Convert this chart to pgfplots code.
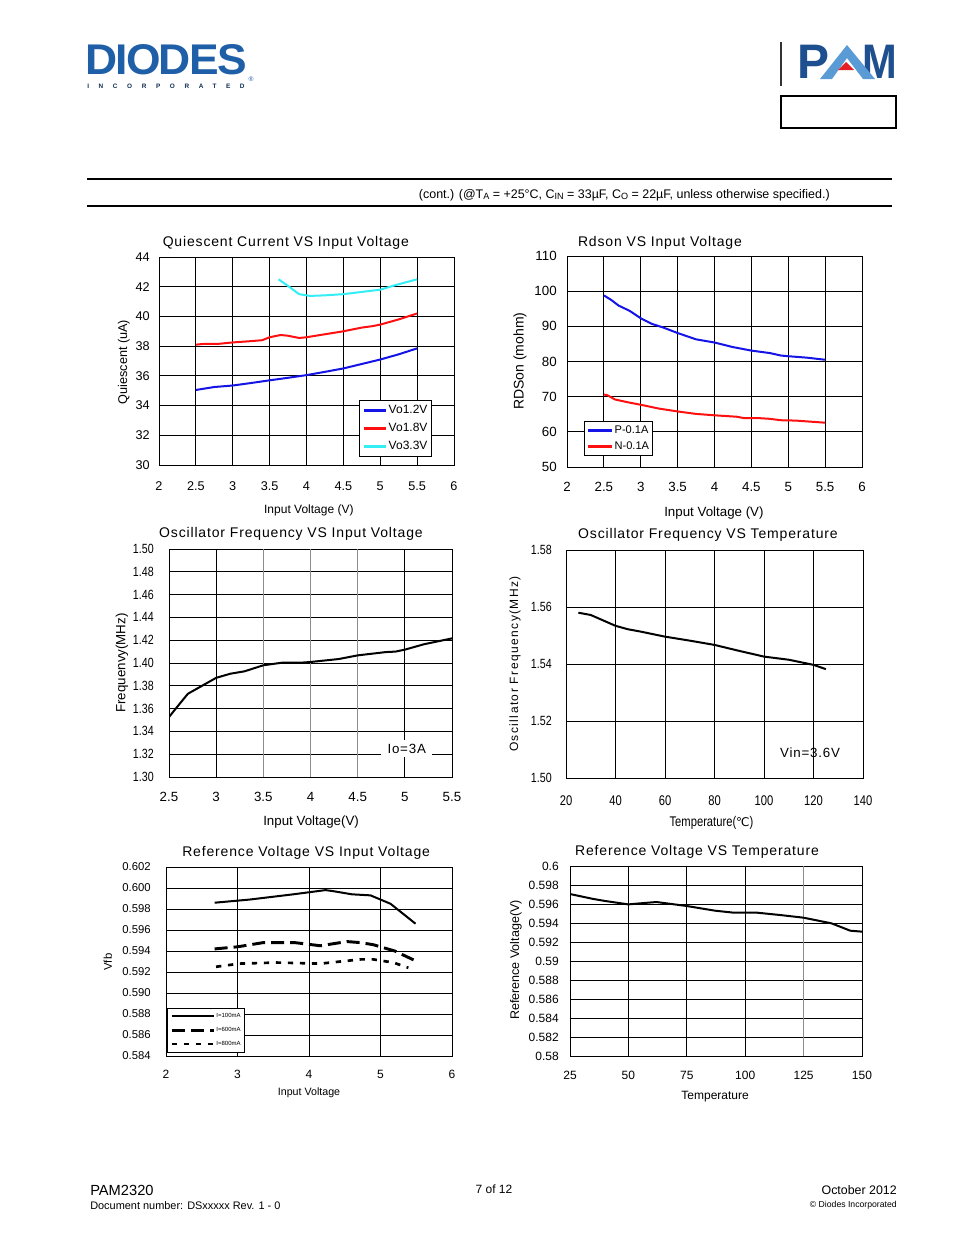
\documentclass[border=0pt]{standalone}
\usepackage{graphicx}
\usepackage{pgfplots}
\pgfplotsset{compat=1.18}
\usepackage{fontspec}
\setmainfont{Liberation Sans}
\newfontfamily\spaced[LetterSpace=6]{Liberation Sans}
\newfontfamily\narrow[FakeStretch=0.8]{Liberation Sans}
\newfontfamily\wide[LetterSpace=150]{Liberation Sans}
\newfontfamily\dejavu{DejaVu Sans}

\definecolor{diodesblue}{HTML}{1F5FA8}
\definecolor{pamdark}{HTML}{1E4F8F}
\definecolor{pamlight}{HTML}{5B9BD5}
\definecolor{pamred}{HTML}{E31E24}
\definecolor{qblue}{HTML}{1414E6}
\definecolor{qred}{HTML}{FF1010}
\definecolor{qcyan}{HTML}{33EEF5}

\newcommand\fs[1]{\fontsize{#1}{#1}\selectfont}
\newcommand\sub[1]{\raisebox{-0.8pt}{\fs{6.8}#1}}

\pgfplotsset{
  pg/.style={
    scale only axis, anchor=south west,
    axis line style={black, line width=0.6pt},
    grid=major, major grid style={black, line width=0.6pt},
    major tick length=0pt, tick style={draw=none},
    /pgf/number format/assume math mode=true,
    every axis title/.style={font=\spaced\fs{10.5}, anchor=center, inner sep=0pt},
    every axis x label/.style={anchor=center, inner sep=0pt},
    every axis y label/.style={anchor=center, rotate=90, inner sep=0pt},
    every axis plot/.append style={line width=1.5pt, line join=round},
    legend cell align=left,
  },
}

\begin{document}
\begin{tikzpicture}
\begin{scope}[x=0.75pt,y=-0.75pt]
\path[use as bounding box, fill=white] (0,0) rectangle (954,1235);

% header logos
\node[anchor=south west, inner sep=0pt, text=diodesblue] at (85,75) {\resizebox{121pt}{22.5pt}{\bfseries\addfontfeature{LetterSpace=-4}DIODES}};
\node[anchor=west, inner sep=0pt, text=diodesblue!50!black] at (87,86.5) {\resizebox{118pt}{!}{\bfseries\wide\fs{4}INCORPORATED}};
\node[inner sep=0pt, text=diodesblue] at (251,79) {\fs{5}®};

\draw[line width=1.1pt, black!80] (781,42) -- (781,86);
\node[anchor=south west, inner sep=0pt, text=pamdark] at (797,79) {\resizebox{24pt}{25pt}{\bfseries P}};
\node[anchor=south west, inner sep=0pt, text=pamdark] at (862,79) {\resizebox{26pt}{25pt}{\bfseries M}};
\fill[pamlight] (820,79) -- (847,45) -- (875,79) -- (863,79) -- (847,58) -- (832,79) -- cycle;
\fill[pamred] (838,70) -- (846,62) -- (854,70) -- cycle;
\draw[line width=0.9pt] (781,96) rectangle (896,128);

\draw[line width=1.5pt] (87,179) -- (892,179);
\draw[line width=1.5pt] (87,206) -- (892,206);
\node[anchor=east, inner sep=0pt, font=\fs{9.35}] at (830,195) {(cont.) (@T\sub{A} = +25°C, C\sub{IN} = 33µF, C\sub{O} = 22µF, unless otherwise specified.)};

% footer
\node[anchor=base west, inner sep=0pt, font=\fs{11}] at (90,1195) {PAM2320};
\node[anchor=base west, inner sep=0pt, font=\fs{8.2}] at (90,1209) {Document number: DSxxxxx Rev. 1 - 0};
\node[anchor=base, inner sep=0pt, font=\fs{9}] at (494,1193) {7 of 12};
\node[anchor=base east, inner sep=0pt, font=\fs{9.3}] at (897,1194) {October 2012};
\node[anchor=base east, inner sep=0pt, font=\fs{6.5}] at (897,1207) {© Diodes Incorporated};
\end{scope}

% 1: quiescent current
\begin{axis}[pg, at={(119.25pt,-348.75pt)}, width=221.25pt, height=156pt,
  xmin=2, xmax=6, ymin=30, ymax=44,
  xtick={2,2.5,...,6}, ytick={30,32,...,44},
  title={Quiescent Current VS Input Voltage},
  title style={at={(axis description cs:0.43,1.067)}},
  xlabel={Input Voltage (V)},
  xlabel style={at={(axis description cs:0.508,-0.216)}, font=\fs{9}},
  ylabel={Quiescent (uA)},
  ylabel style={at={(axis description cs:-0.119,0.495)}, font=\fs{9.5}},
  xticklabel style={anchor=center, yshift=-15.75pt, font=\fs{9.5}},
  yticklabel style={anchor=east, inner sep=0pt, xshift=-6.75pt, font=\fs{9.5}},
  legend style={at={(axis description cs:0.678,0.3125)}, anchor=north west,
    draw=black, line width=0.6pt, fill=white, font=\fs{9}, row sep=4pt,
    inner xsep=2.5pt, inner ysep=3pt, nodes={inner sep=0.8pt}},
  legend image code/.code={\draw[#1, line width=2.2pt] (0pt,0pt) -- (16.5pt,0pt);},
]
\addplot[qblue] coordinates {(2.5,35.05)(2.75,35.25)(3,35.35)(3.25,35.52)(3.5,35.7)(3.75,35.87)(4,36.05)(4.25,36.27)(4.5,36.5)(4.75,36.8)(5,37.1)(5.25,37.45)(5.5,37.85)};
\addplot[qred] coordinates {(2.5,38.1)(2.6,38.15)(2.8,38.15)(3,38.25)(3.2,38.32)(3.4,38.4)(3.5,38.6)(3.65,38.75)(3.75,38.7)(3.9,38.55)(4,38.6)(4.25,38.8)(4.5,39.0)(4.75,39.25)(4.9,39.35)(5,39.45)(5.25,39.8)(5.5,40.2)};
\addplot[qcyan] coordinates {(3.62,42.5)(3.75,42.05)(3.9,41.5)(4.05,41.38)(4.25,41.42)(4.5,41.5)(4.75,41.65)(5,41.8)(5.2,42.1)(5.5,42.5)};
\legend{Vo1.2V,Vo1.8V,Vo3.3V}
\end{axis}

% 2: Rdson
\begin{axis}[pg, at={(425.25pt,-350.25pt)}, width=221.25pt, height=158.25pt,
  xmin=2, xmax=6, ymin=50, ymax=110,
  xtick={2,2.5,...,6}, ytick={50,60,...,110},
  title={Rdson VS Input Voltage},
  title style={at={(axis description cs:0.315,1.062)}},
  xlabel={Input Voltage (V)},
  xlabel style={at={(axis description cs:0.498,-0.218)}, font=\fs{10}},
  ylabel={RDSon (mohm)},
  ylabel style={at={(axis description cs:-0.159,0.502)}, font=\fs{10.5}},
  xticklabel style={anchor=center, yshift=-15pt, font=\fs{10}},
  yticklabel style={anchor=east, inner sep=0pt, xshift=-7.5pt, font=\fs{10}},
  legend style={at={(axis description cs:0.058,0.218)}, anchor=north west,
    draw=black, line width=0.6pt, fill=white, font=\fs{8.3}, row sep=3pt,
    inner xsep=2pt, inner ysep=2.5pt, nodes={inner sep=0.8pt}},
  legend image code/.code={\draw[#1, line width=1.8pt] (0pt,0pt) -- (18pt,0pt);},
]
\addplot[qblue] coordinates {(2.5,98.8)(2.6,97.5)(2.7,95.9)(2.85,94.4)(3,92.3)(3.15,90.7)(3.3,89.7)(3.5,88.1)(3.75,86.3)(4,85.4)(4.25,84.1)(4.5,83.1)(4.75,82.4)(4.9,81.7)(5,81.5)(5.25,81.1)(5.5,80.5)};
\addplot[qred] coordinates {(2.5,70.6)(2.55,70.4)(2.65,69.2)(2.85,68.3)(3,67.7)(3.25,66.6)(3.5,65.8)(3.75,65.1)(4,64.7)(4.3,64.3)(4.4,63.9)(4.6,63.9)(4.75,63.7)(4.9,63.3)(5.1,63.2)(5.3,62.9)(5.5,62.6)};
\legend{P-0.1A,N-0.1A}
\end{axis}

% 3: oscillator frequency vs input voltage
\begin{axis}[pg, at={(126.75pt,-582.75pt)}, width=212.25pt, height=171pt,
  xmin=2.5, xmax=5.5, ymin=1.30, ymax=1.50,
  xtick={2.5,3,5,5.5}, extra x ticks={3.5,4,4.5},
  extra x tick style={major grid style={black!45, line width=0.6pt}},
  ytick={1.30,1.32,...,1.50},
  title={Oscillator Frequency VS Input Voltage},
  title style={at={(axis description cs:0.431,1.066)}},
  xlabel={Input Voltage(V)},
  xlabel style={at={(axis description cs:0.502,-0.197)}, font=\fs{10}},
  ylabel={Frequenvy(MHz)},
  ylabel style={at={(axis description cs:-0.166,0.5)}, font=\fs{10}},
  xticklabel style={anchor=center, yshift=-15pt, font=\fs{10}},
  yticklabel style={anchor=east, inner sep=0pt, xshift=-11.25pt, font=\narrow\fs{10},
    /pgf/number format/fixed, /pgf/number format/fixed zerofill, /pgf/number format/precision=2},
]
\addplot[black] coordinates {(2.5,1.3526)(2.6,1.3629)(2.7,1.373)(2.85,1.380)(3,1.387)(3.15,1.3906)(3.3,1.3927)(3.5,1.398)(3.7,1.4003)(3.9,1.4003)(4,1.4009)(4.3,1.4035)(4.5,1.4067)(4.8,1.4096)(4.9,1.410)(5,1.4117)(5.2,1.4164)(5.5,1.4216)};
\node[fill=white, inner sep=0pt, minimum width=38pt, minimum height=12.75pt, font=\spaced\fs{10}] at (axis cs:5.02,1.3246) {Io=3A};
\end{axis}

% 4: oscillator frequency vs temperature
\begin{axis}[pg, at={(424.5pt,-583.5pt)}, width=222.75pt, height=171pt,
  xmin=20, xmax=140, ymin=1.50, ymax=1.58,
  xtick={20,40,...,140}, ytick={1.50,1.52,...,1.58},
  title={Oscillator Frequency VS Temperature},
  title style={at={(axis description cs:0.478,1.066)}},
  xlabel={Temperature({\dejavu\fs{9}℃})},
  xlabel style={at={(axis description cs:0.49,-0.197)}, font=\narrow\fs{10.5}},
  ylabel={Oscillator Frequency(MHz)},
  ylabel style={at={(axis description cs:-0.172,0.5)}, font=\addfontfeature{LetterSpace=12}\fs{9}},
  xticklabel style={anchor=center, yshift=-17.25pt, font=\narrow\fs{10.5}},
  yticklabel style={anchor=east, inner sep=0pt, xshift=-10.5pt, font=\narrow\fs{10},
    /pgf/number format/fixed, /pgf/number format/fixed zerofill, /pgf/number format/precision=2},
]
\addplot[black] coordinates {(25,1.558)(30,1.5572)(40,1.5534)(45,1.5522)(50,1.5514)(60,1.5496)(70,1.5482)(80,1.5467)(90,1.5446)(100,1.5426)(110,1.5415)(120,1.5397)(125,1.5382)};
\node[font=\spaced\fs{10}, inner sep=0pt] at (axis cs:118.6,1.5088) {Vin=3.6V};
\end{axis}

% 5: reference voltage vs input voltage
\begin{axis}[pg, at={(124.5pt,-792pt)}, width=214.5pt, height=141.75pt,
  xmin=2, xmax=6, ymin=0.584, ymax=0.602,
  xtick={2,3,...,6}, ytick={0.584,0.586,...,0.602},
  title={Reference Voltage VS Input Voltage},
  title style={at={(axis description cs:0.49,1.074)}},
  xlabel={Input Voltage},
  xlabel style={at={(axis description cs:0.5,-0.196)}, font=\fs{8}},
  ylabel={Vfb},
  ylabel style={at={(axis description cs:-0.203,0.497)}, font=\fs{8.5}},
  xticklabel style={anchor=center, yshift=-14pt, font=\fs{9}},
  yticklabel style={anchor=east, inner sep=0pt, xshift=-11.25pt, font=\fs{8.5},
    /pgf/number format/fixed, /pgf/number format/fixed zerofill, /pgf/number format/precision=3},
  legend style={at={(axis description cs:0.0035,0.254)}, anchor=north west,
    draw=black, line width=0.6pt, fill=white, font=\fs{4.5}, row sep=4.6pt,
    inner xsep=2pt, inner ysep=3pt, nodes={inner sep=0.6pt}},
  legend image code/.code={\draw[#1] (0pt,0pt) -- (32pt,0pt);},
]
\addplot[black, line width=1.5pt] coordinates {(2.68,0.5986)(3.17,0.5989)(3.78,0.5994)(4.23,0.5998)(4.34,0.5997)(4.6,0.5994)(4.86,0.5993)(5.14,0.5985)(5.49,0.5966)};
\addplot[black, line width=2.2pt, dash pattern=on 9.75pt off 4.5pt] coordinates {(2.68,0.5942)(3.0,0.5944)(3.36,0.5948)(3.8,0.5948)(4.16,0.5945)(4.53,0.5949)(4.72,0.5948)(4.9,0.5946)(5.2,0.5940)(5.51,0.5930)};
\addplot[black, line width=2pt, dash pattern=on 4pt off 5pt] coordinates {(2.7,0.5925)(3.03,0.5928)(3.55,0.5929)(4.16,0.5928)(4.44,0.5930)(4.72,0.5932)(4.9,0.5932)(5.18,0.5929)(5.39,0.5924)};
\legend{I=100mA,I=600mA,I=800mA}
\end{axis}

% 6: reference voltage vs temperature
\begin{axis}[pg, at={(427.5pt,-792pt)}, width=219pt, height=142.5pt,
  xmin=25, xmax=150, ymin=0.58, ymax=0.6,
  xtick={25,50,75,100,150}, extra x ticks={125},
  extra x tick style={major grid style={black!45, line width=0.6pt}},
  ytick={0.58,0.582,...,0.6},
  title={Reference Voltage VS Temperature},
  title style={at={(axis description cs:0.435,1.074)}},
  xlabel={Temperature},
  xlabel style={at={(axis description cs:0.497,-0.216)}, font=\fs{9}},
  ylabel={Reference Voltage(V)},
  ylabel style={at={(axis description cs:-0.185,0.505)}, font=\fs{9.4}},
  xticklabel style={anchor=center, yshift=-14.25pt, font=\fs{9}},
  yticklabel style={anchor=east, inner sep=0pt, xshift=-8.25pt, font=\fs{9},
    /pgf/number format/fixed, /pgf/number format/precision=3},
]
\addplot[black] coordinates {(25,0.59705)(35,0.59653)(40,0.59632)(50,0.59596)(55,0.59607)(62,0.59621)(75,0.59579)(87,0.5953)(95,0.59509)(105,0.59509)(115,0.59484)(125,0.59456)(137,0.59396)(145,0.59319)(150,0.59309)};
\end{axis}
\end{tikzpicture}
\end{document}
